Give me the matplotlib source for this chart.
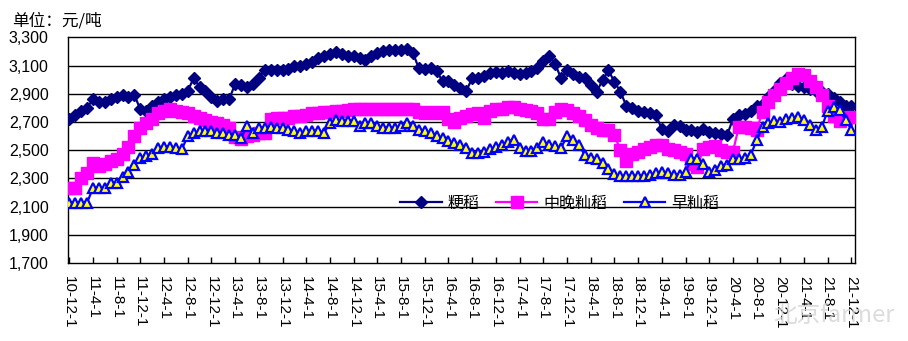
import matplotlib
matplotlib.use("Agg")
import matplotlib.pyplot as plt

plt.rcParams['font.family'] = ['Liberation Sans', 'Noto Sans CJK SC', 'DejaVu Sans']

# monthly prices, 2010-12 .. 2021-12 (yuan / ton)
japonica = [2720, 2750, 2775, 2800, 2860, 2840, 2840, 2860, 2880, 2890, 2880, 2890,
            2790, 2780, 2810, 2840, 2860, 2880, 2890, 2900, 2920, 3010, 2950, 2920,
            2880, 2850, 2860, 2860, 2970, 2960, 2950, 2970, 3010, 3070, 3070, 3065,
            3065, 3075, 3100, 3100, 3110, 3125, 3150, 3165, 3185, 3195, 3185, 3165,
            3165, 3155, 3140, 3165, 3190, 3200, 3210, 3210, 3210, 3215, 3190, 3080,
            3075, 3080, 3060, 2990, 2990, 2960, 2940, 2920, 3010, 3015, 3025, 3045,
            3055, 3050, 3060, 3050, 3040, 3050, 3060, 3085, 3130, 3170, 3110, 3010,
            3065, 3040, 3020, 3010, 2960, 2915, 2995, 3065, 2985, 2915, 2815, 2800,
            2780, 2770, 2760, 2750, 2650, 2635, 2680, 2670, 2640, 2640, 2630, 2650,
            2630, 2625, 2615, 2605, 2720, 2750, 2755, 2780, 2810, 2830, 2875, 2920,
            2975, 3005, 2970, 2955, 2945, 2935, 2920, 2910, 2895, 2870, 2840, 2815,
            2815]

mid_late_indica = [2230, 2230, 2300, 2340, 2410, 2390, 2400, 2420, 2440, 2470, 2520, 2600,
                   2660, 2690, 2720, 2760, 2780, 2790, 2780, 2770, 2760, 2740, 2730, 2715,
                   2700, 2690, 2680, 2660, 2590, 2580, 2600, 2610, 2620, 2625, 2720, 2730,
                   2730, 2730, 2740, 2740, 2750, 2760, 2760, 2770, 2770, 2780, 2780, 2785,
                   2790, 2790, 2790, 2795, 2795, 2795, 2795, 2795, 2795, 2795, 2790, 2770,
                   2760, 2770, 2760, 2770, 2720, 2700, 2730, 2745, 2755, 2760, 2730, 2780,
                   2790, 2795, 2805, 2805, 2795, 2785, 2775, 2765, 2720, 2720, 2770, 2790,
                   2785, 2765, 2740, 2715, 2680, 2655, 2640, 2640, 2610, 2500, 2420, 2470,
                   2490, 2510, 2520, 2535, 2535, 2510, 2500, 2490, 2475, 2400, 2380, 2510,
                   2520, 2530, 2500, 2490, 2490, 2665, 2665, 2655, 2645, 2770, 2840, 2890,
                   2930, 2975, 3015, 3040, 3035, 2990, 2950, 2890, 2810, 2740, 2710, 2725,
                   2735]

early_indica = [2125, 2125, 2125, 2125, 2230, 2230, 2230, 2265, 2265, 2310, 2345, 2395,
                2445, 2460, 2475, 2515, 2525, 2525, 2515, 2505, 2600, 2620, 2635, 2635,
                2635, 2625, 2620, 2610, 2605, 2585, 2670, 2625, 2655, 2655, 2665, 2655,
                2655, 2645, 2635, 2625, 2635, 2635, 2635, 2625, 2690, 2715, 2710, 2710,
                2705, 2670, 2690, 2690, 2670, 2660, 2660, 2660, 2670, 2690, 2670, 2645,
                2635, 2620, 2600, 2585, 2565, 2550, 2540, 2515, 2480, 2480, 2490, 2505,
                2525, 2540, 2560, 2575, 2515, 2495, 2495, 2515, 2560, 2540, 2530, 2515,
                2600, 2575, 2540, 2465, 2445, 2440, 2410, 2365, 2330, 2315, 2315, 2315,
                2315, 2320, 2325, 2335, 2345, 2335, 2325, 2325, 2345, 2440, 2440, 2405,
                2345, 2360, 2385, 2395, 2440, 2440, 2445, 2465, 2570, 2665, 2690, 2710,
                2700, 2720, 2725, 2735, 2715, 2680, 2640, 2665, 2780, 2805, 2785, 2715,
                2645]

tick_labels = ["10-12-1", "11-4-1", "11-8-1", "11-12-1", "12-4-1", "12-8-1", "12-12-1",
               "13-4-1", "13-8-1", "13-12-1", "14-4-1", "14-8-1", "14-12-1", "15-4-1",
               "15-8-1", "15-12-1", "16-4-1", "16-8-1", "16-12-1", "17-4-1", "17-8-1",
               "17-12-1", "18-4-1", "18-8-1", "18-12-1", "19-4-1", "19-8-1", "19-12-1",
               "20-4-1", "20-8-1", "20-12-1", "21-4-1", "21-8-1", "21-12-1"]

yticks = [1700, 1900, 2100, 2300, 2500, 2700, 2900, 3100, 3300]

months = list(range(len(japonica)))
tick_pos = [4 * i for i in range(len(tick_labels))]

fig = plt.figure(figsize=(9.08, 3.41), dpi=100)
ax = fig.add_axes([68 / 908, 1 - 263 / 341, 787 / 908, (263 - 37.3) / 341])

for y in yticks[1:-1]:
    ax.axhline(y, color='black', lw=1.0, zorder=1)

ax.plot(months, japonica, color='#000080', lw=1.6, marker='D', markersize=5.8,
        markerfacecolor='#000080', markeredgecolor='#000080', label='粳稻', zorder=3)
ax.plot(months, mid_late_indica, color='#FF00FF', lw=1.6, marker='s', markersize=8.5,
        markerfacecolor='#FF00FF', markeredgecolor='#FF00FF', label='中晚籼稻', zorder=4)
ax.plot(months, early_indica, color='#0000FF', lw=1.6, marker='^', markersize=7.5,
        markerfacecolor='#FFFF00', markeredgecolor='#0000FF', markeredgewidth=1.6,
        label='早籼稻', zorder=5)

ax.set_xlim(-0.2, 132.6)
ax.set_ylim(1700, 3300)
ax.set_yticks(yticks)
ax.set_yticklabels([f"{v:,}" for v in yticks], fontsize=11.5)
ax.set_xticks(tick_pos)
ax.set_xticklabels(tick_labels, rotation=-90, fontsize=11, ha='center', va='top')
ax.tick_params(axis='x', direction='in', length=4, pad=9, width=1)
ax.tick_params(axis='y', length=0, pad=14)
for s in ax.spines.values():
    s.set_linewidth(1.0)
    s.set_color('black')

leg = ax.legend(loc='center', bbox_to_anchor=(0.625, 0.265), ncol=3, frameon=False,
                fontsize=11.5, handlelength=2.6, columnspacing=1.0, handletextpad=0.4,
                borderaxespad=0)

fig.text(12 / 908, 1 - 21 / 341, "单位：元/吨", fontsize=12, va='center', ha='left',
         family=['Noto Sans CJK SC', 'DejaVu Sans'])
fig.text(773 / 908, 1 - 316 / 341, "北京farmer", fontsize=17, va='center', ha='left',
         color='#d4d4d4', alpha=0.8, family=['Noto Sans CJK SC', 'DejaVu Sans'],
         zorder=0)

fig.savefig("out.png", dpi=100)
